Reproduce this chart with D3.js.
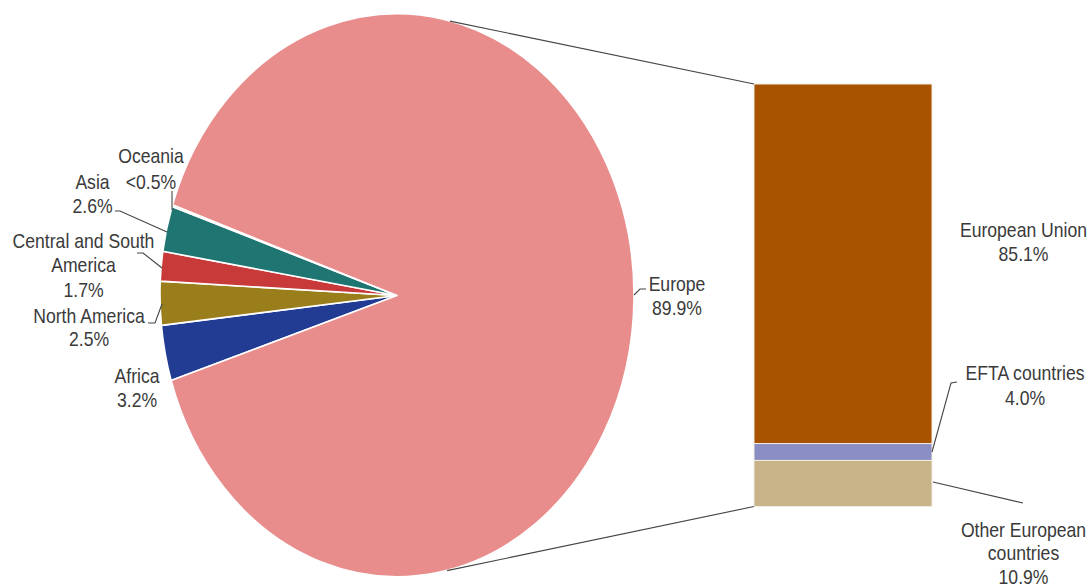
<!DOCTYPE html>
<html><head><meta charset="utf-8">
<script src="https://cdn.jsdelivr.net/npm/d3@7/dist/d3.min.js"></script>
<style>
html,body{margin:0;padding:0;background:#fff;}
svg{display:block;}
text{font-family:"Liberation Sans",Arial,sans-serif;font-size:20px;fill:#3a3a3a;}
</style></head>
<body>
<svg id="chart" width="1089" height="587"></svg>
<script>
// ---- data ----
const regions = ["Africa", "North America", "Central and South America", "Asia", "Oceania", "Europe"];
const regionShares = [3.2, 2.5, 1.7, 2.6, 0.1, 89.9];
const regionLabels = ["3.2%", "2.5%", "1.7%", "2.6%", "<0.5%", "89.9%"];
const regionColors = ["#223C94", "#9B7E1C", "#C83939", "#1F7571", "#8C8C8C", "#E88C8C"];

const europeParts = ["European Union", "EFTA countries", "Other European countries"];
const europeShares = [85.1, 4.0, 10.9];
const europeLabels = ["85.1%", "4.0%", "10.9%"];
const europeColors = ["#A85300", "#8A8EC3", "#C8B388"];

(function () {
// ---- layout ----
const svg = d3.select("#chart");
const cx = 397, cy = 295.5, rx = 237, ry = 281.5;
const startDeg = 252.4;
const toRad = d => d * Math.PI / 180;

const pie = d3.pie().sort(null).value(d => d)
  .startAngle(toRad(startDeg)).endAngle(toRad(startDeg) + 2 * Math.PI);
const arcs = pie(regionShares);
const arc = d3.arc().innerRadius(0).outerRadius(1);

const pieG = svg.append("g").attr("transform", `translate(${cx},${cy}) scale(${rx},${ry})`);
pieG.selectAll("path").data(arcs).join("path")
  .attr("d", arc)
  .attr("fill", (d, i) => regionColors[i])
  .attr("stroke", "#fff")
  .attr("stroke-width", 1.6)
  .attr("vector-effect", "non-scaling-stroke")
  .attr("stroke-linejoin", "round");

const ellipsePoint = deg => [cx + rx * Math.sin(toRad(deg)), cy - ry * Math.cos(toRad(deg))];

// bar of pie
const barX0 = 754, barX1 = 932;
const y = d3.scaleLinear().domain([0, 100]).range([84, 506.5]);
const cum = d3.cumsum(europeShares);
const barData = europeShares.map((v, i) => ({ name: europeParts[i], y0: cum[i] - v, y1: cum[i] }));
svg.append("g").selectAll("rect").data(barData).join("rect")
  .attr("x", barX0).attr("width", barX1 - barX0)
  .attr("y", d => y(d.y0)).attr("height", d => y(d.y1) - y(d.y0))
  .attr("fill", (d, i) => europeColors[i])
  .attr("stroke", "#f2ede4").attr("stroke-width", 1);

// connectors
const lineCol = "#444";
const lines = svg.append("g").attr("fill", "none").attr("stroke", lineCol).attr("stroke-width", 1.1);
const pTop = ellipsePoint(12.9), pBot = ellipsePoint(167.8);
lines.append("line").attr("x1", pTop[0]).attr("y1", pTop[1]).attr("x2", barX0).attr("y2", y(0));
lines.append("line").attr("x1", pBot[0]).attr("y1", pBot[1]).attr("x2", barX0).attr("y2", y(100));

// leader lines
const leaders = [
  [[172, 191], [172, 210]],
  [[115, 211], [120, 211], [167, 232]],
  [[137, 253], [143, 253], [162, 268]],
  [[148, 323], [155, 323], [162, 304]],
  [[646, 289], [640, 289], [634, 295]],
  [[957, 382], [951, 383], [932, 452]],
  [[933, 482], [1023, 503]]
];
lines.selectAll("polyline").data(leaders).join("polyline")
  .attr("points", d => d.map(p => p.join(",")).join(" "));

// labels
const sx = 0.88;
const labelSpecs = [
  { x: 151, y: 163, gap: 26, lines: [regions[4], regionLabels[4]] },
  { x: 92.5, y: 189, gap: 24, lines: [regions[3], regionLabels[3]] },
  { x: 83.5, y: 248, gap: 24.5, lines: ["Central and South", "America", regionLabels[2]] },
  { x: 89, y: 323, gap: 23.5, lines: [regions[1], regionLabels[1]] },
  { x: 137, y: 383, gap: 24, lines: [regions[0], regionLabels[0]] },
  { x: 677, y: 291, gap: 24, lines: [regions[5], regionLabels[5]] },
  { x: 1023.5, y: 237, gap: 24, lines: [europeParts[0], europeLabels[0]] },
  { x: 1025, y: 380, gap: 25, lines: [europeParts[1], europeLabels[1]] },
  { x: 1023.5, y: 537, gap: 23.5, lines: ["Other European", "countries", europeLabels[2]] }
];
const lg = svg.append("g");
labelSpecs.forEach(s => {
  const t = lg.append("text")
    .attr("transform", `translate(${s.x},${s.y}) scale(${sx},1)`)
    .attr("text-anchor", "middle");
  s.lines.forEach((l, i) => {
    t.append("tspan").attr("x", 0).attr("y", i * s.gap).text(l);
  });
});
})();
</script>
</body></html>
